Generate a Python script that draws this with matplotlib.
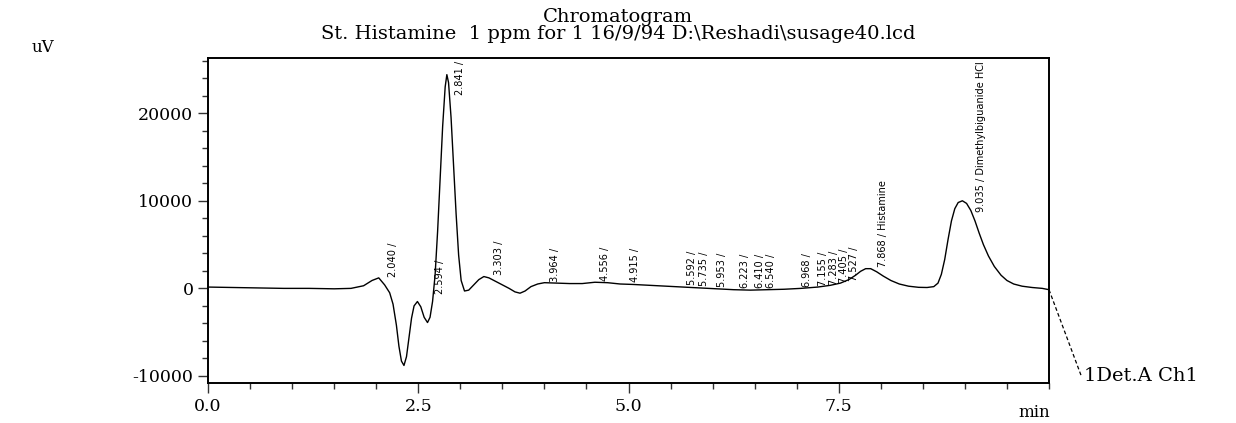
import numpy as np
import matplotlib.pyplot as plt

# detector trace (min, uV)
time_min = [0.0, 0.3, 0.6, 0.9, 1.2, 1.5, 1.7, 1.85, 1.95, 2.03, 2.10, 2.16, 2.20, 2.24,
            2.27, 2.30, 2.33, 2.36, 2.39, 2.42, 2.45, 2.49, 2.53, 2.57, 2.61, 2.64, 2.67,
            2.70, 2.73, 2.76, 2.79, 2.82, 2.84, 2.86, 2.89, 2.92, 2.95, 2.98, 3.01, 3.05,
            3.10, 3.16, 3.22, 3.28, 3.34, 3.42, 3.50, 3.58, 3.65, 3.71, 3.77, 3.84, 3.92,
            4.00, 4.15, 4.30, 4.45, 4.60, 4.75, 4.90, 5.05, 5.25, 5.45, 5.65, 5.85, 6.05,
            6.25, 6.45, 6.65, 6.85, 7.05, 7.25, 7.40, 7.52, 7.62, 7.70, 7.76, 7.82, 7.88,
            7.95, 8.03, 8.12, 8.22, 8.33, 8.45, 8.55, 8.63, 8.68, 8.72, 8.76, 8.80, 8.84,
            8.88, 8.92, 8.97, 9.02, 9.07, 9.12, 9.17, 9.22, 9.28, 9.35, 9.43, 9.50, 9.58,
            9.68, 9.80, 9.92, 10.0]
signal_uv = [150, 100, 50, 0, 0, -50, 0, 300, 900, 1200, 400, -500, -1800, -4200,
             -6600, -8300, -8800, -7800, -5600, -3400, -2000, -1500, -2100, -3300, -3900, -3300, -1500,
             1500, 6500, 12500, 18500, 23000, 24400, 23500, 19500, 14000, 8500, 3800, 900, -300,
             -200, 400, 1000, 1350, 1200, 800, 400, 0, -400, -550, -300, 200, 500,
             650, 600, 550, 550, 700, 650, 500, 450, 350, 250, 150, 50, -50,
             -150, -200, -150, -100, 0, 150, 350, 600, 1000, 1500, 1950, 2250, 2250,
             1900, 1400, 900, 500, 250, 120, 100, 200, 600, 1600, 3300, 5600, 7700,
             9100, 9800, 10000, 9700, 8900, 7700, 6300, 5000, 3700, 2500, 1500, 900, 500,
             250, 100, 0, -150]

# peak table
peak_rt = [2.040, 2.594, 2.841, 3.303, 3.964, 4.556, 4.915, 5.592, 5.735, 5.953, 6.223,
           6.410, 6.540, 6.968, 7.155, 7.283, 7.405, 7.527, 7.868, 9.035]
peak_names = [''] * 18 + ['Histamine', 'Dimethylbiguanide HCl']

plt.rcParams['font.family'] = 'DejaVu Serif'
plt.rcParams['axes.unicode_minus'] = False

fig = plt.figure(figsize=(12.36, 4.23), dpi=100)
ax = fig.add_axes([0.1683, 0.0946, 0.6804, 0.7683])
ax.plot(time_min, signal_uv, color='black', lw=1.0)

ax.set_xlim(0, 10)
ax.set_ylim(-10800, 26300)
ax.set_xticks([0, 2.5, 5.0, 7.5])
ax.set_xticklabels(['0.0', '2.5', '5.0', '7.5'])
ax.set_xticks(np.arange(0, 10.01, 0.5), minor=True)
ax.set_yticks([-10000, 0, 10000, 20000])
ax.set_yticks(np.arange(-10000, 26001, 2000), minor=True)
ax.tick_params(which='major', length=7, width=1, labelsize=12.5, color='#333333')
ax.tick_params(which='minor', length=4, width=1, color='#333333')
for s in ax.spines.values():
    s.set_linewidth(1.4)

# peak labels, rotated like the instrument printout
label_font = ['Liberation Sans Narrow', 'DejaVu Sans']
fig.canvas.draw()
renderer = fig.canvas.get_renderer()
inv = ax.transData.inverted()
for rt, name in zip(peak_rt, peak_names):
    txt = f'{rt:.3f} /' + (f' {name}' if name else '')
    base = max(np.interp(rt, time_min, signal_uv), -800) + 200
    t = ax.text(rt + 0.1, base, txt, rotation=90, ha='left', va='bottom',
                fontsize=7.8, family=label_font, fontstretch='condensed')
    bb = t.get_window_extent(renderer)
    over = bb.y1 - ax.bbox.y1 + 3
    if over > 0:
        ypx = ax.transData.transform((rt, base))[1] - over
        t.set_y(inv.transform((0, ypx))[1])

# detector tag outside the frame
ax.plot([10.0, 10.38], [-150, -9900], color='black', lw=0.9, ls=(0, (3, 2)), clip_on=False)
ax.text(10.42, -10000, '1Det.A Ch1', fontsize=14, va='center', ha='left')

fig.text(0.5, 1 - 17 / 423, 'Chromatogram', ha='center', va='center', fontsize=14)
fig.text(0.5, 1 - 34 / 423, 'St. Histamine  1 ppm for 1 16/9/94 D:\\Reshadi\\susage40.lcd',
         ha='center', va='center', fontsize=14)
fig.text(32 / 1236, 1 - 47 / 423, 'uV', ha='left', va='center', fontsize=12)
fig.text(1050 / 1236, 1 - 412 / 423, 'min', ha='right', va='center', fontsize=12)

fig.savefig('out.png', dpi=100)
